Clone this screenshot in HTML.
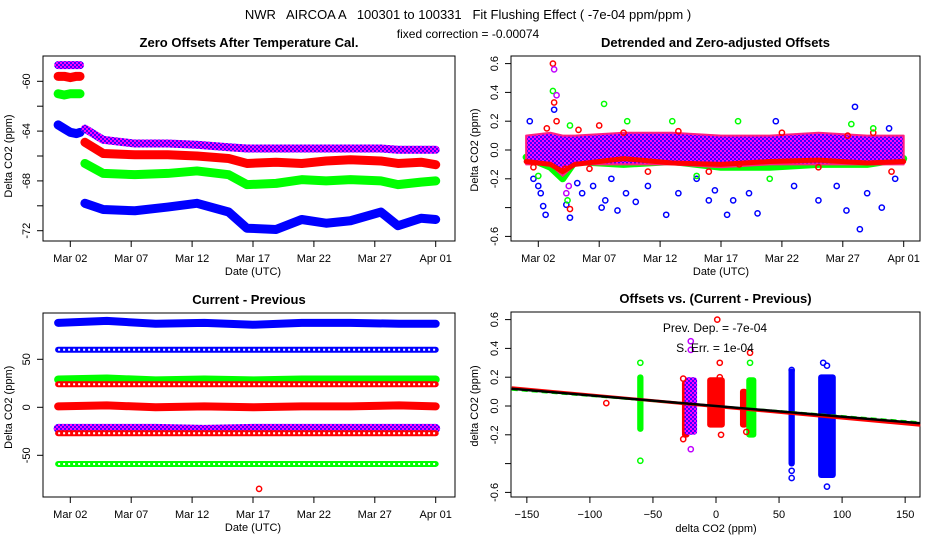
<!DOCTYPE html>
<html><head><meta charset="utf-8"><style>
body{margin:0;background:#fff}
svg{display:block;font-family:"Liberation Sans",sans-serif}
</style></head><body>
<svg id="c" width="936" height="540" viewBox="0 0 936 540">
<defs>
<pattern id="pp" width="4" height="4" patternUnits="userSpaceOnUse"><rect width="4" height="4" fill="#ff00ff"/><rect width="2" height="2" fill="#4000ff"/><rect x="2" y="2" width="2" height="2" fill="#4000ff"/></pattern>
</defs>
<text x="468" y="19" font-size="13" text-anchor="middle" style="white-space:pre">NWR   AIRCOA A   100301 to 100331   Fit Flushing Effect ( -7e-04 ppm/ppm )</text>
<text x="468" y="38" font-size="12" text-anchor="middle">fixed correction = -0.00074</text>
<g id="g"></g>
</svg>
<script>
// Panel 1: zero offsets (day since Mar 1, value)
const p1Days = [0,0.5,1,1.5,1.8];
const p1PrePurple = [-58.7,-58.7,-58.7,-58.7,-58.7];
const p1PreRed = [-59.6,-59.6,-59.7,-59.6,-59.6];
const p1PreGreen = [-61,-61.1,-61,-61,-61];
const p1PreBlue = [-63.5,-63.8,-64.1,-64.2,-64.1];
const p1PostDays = [2.2,3.7,6.3,9,11.4,14,15.5,17.9,20,22,24,26.5,27.9,29.8,31];
const p1Purple = [-63.8,-64.7,-65,-65,-65.1,-65.3,-65.4,-65.4,-65.4,-65.4,-65.4,-65.4,-65.5,-65.5,-65.5];
const p1Red = [-64.9,-65.8,-65.9,-65.9,-66,-66.2,-66.6,-66.5,-66.6,-66.4,-66.3,-66.4,-66.6,-66.5,-66.7];
const p1Green = [-66.6,-67.4,-67.5,-67.4,-67.2,-67.5,-68.3,-68.2,-67.9,-68,-67.9,-68,-68.3,-68.1,-68.0];
const p1Blue = [-69.8,-70.3,-70.4,-70.1,-69.8,-70.5,-71.8,-71.9,-71.1,-71.4,-71.2,-70.5,-71.6,-71.0,-71.1];
// Panel 2: detrended band and outliers
const p2BandDays = [0,2,3,4,8,12,16,20,24,28,31];
const p2BandHi = [0.1,0.12,0.1,0.1,0.12,0.12,0.1,0.1,0.12,0.1,0.1];
const p2BandLo = [-0.1,-0.1,-0.18,-0.1,-0.1,-0.1,-0.12,-0.1,-0.1,-0.1,-0.1];
const p2RedEdge = [-0.08,-0.1,-0.15,-0.1,-0.06,-0.09,-0.1,-0.08,-0.07,-0.09,-0.08];
const p2GreenEdge = [-0.05,-0.12,-0.2,-0.08,-0.1,-0.08,-0.12,-0.12,-0.1,-0.1,-0.06];
const p2BlueDays = [0.3,0.6,1,1.2,1.4,1.6,2.3,3.3,3.6,4.2,4.6,5.5,6.2,6.5,7,7.5,8.2,9,10,11.5,12.5,14,15,15.5,16.5,17,18.3,19,20.5,22,24,25.5,26.3,27,27.4,28,29.2,29.8,30.3];
const p2BlueVals = [0.2,-0.2,-0.25,-0.3,-0.39,-0.45,0.28,-0.38,-0.47,-0.23,-0.3,-0.25,-0.4,-0.35,-0.2,-0.42,-0.3,-0.36,-0.25,-0.45,-0.3,-0.2,-0.35,-0.28,-0.45,-0.35,-0.3,-0.44,0.2,-0.25,-0.35,-0.25,-0.42,0.3,-0.55,-0.3,-0.4,0.15,-0.2];
const p2RedDays = [0.6,1.7,2.2,2.3,2.5,3.2,3.6,4.3,5.2,6,8,10,12.5,15,17.5,21,24,26.4,28.5,30];
const p2RedVals = [-0.12,0.15,0.6,0.33,0.2,-0.13,-0.41,0.14,-0.13,0.17,0.12,-0.15,0.13,-0.15,-0.1,0.12,-0.12,0.1,0.12,-0.15];
const p2GreenDays = [1,2.2,3.4,3.6,6.4,8.3,12,14,17.4,20,26.7,28.5];
const p2GreenVals = [-0.18,0.41,-0.35,0.17,0.32,0.2,0.2,-0.18,0.2,-0.2,0.18,0.15];
const p2PurpleDays = [2.3,2.5,3.3,3.5];
const p2PurpleVals = [0.56,0.38,-0.3,-0.25];
// Panel 3: current - previous levels
const p3Days = [0,4,8,12,16,20,24,28,31];
const p3BlueF = [88,90,87,88,86,88,88,87,87];
const p3BlueO = [60,60,60,60,60,60,60,60,60];
const p3GreenF = [29,30,28,29,28,29,29,29,29];
const p3RedO = [24,24,24,24,24,24,24,24,24];
const p3RedF = [1,2,0,1,0,1,1,2,1];
const p3Purple = [-22,-22,-22,-23,-22,-22,-22,-22,-22];
const p3RedO2 = [-27,-27,-27,-27,-27,-27,-27,-27,-27];
const p3GreenO = [-59,-59,-59,-59,-59,-59,-59,-59,-59];
// Panel 4: columns of offsets vs dCO2
const p4ColX = [-60,-24,-20,0,22,28,60,88];
const p4ColLo = [-0.18,-0.22,-0.2,-0.15,-0.15,-0.22,-0.42,-0.5];
const p4ColHi = [0.22,0.18,0.2,0.2,0.12,0.2,0.26,0.22];
const p4ColW = [5,6,10,14,6,8,5,14];
const p4ColC = ['#00ff00','#ff0000','url(#pp)','#ff0000','#ff0000','#00ff00','#0000ff','#0000ff'];
const p4OutX = [-87,-60,-60,-26,-26,-20,-20,-20,1,3,3,4,27,24,27,60,60,60,85,88,90,86,88];
const p4OutY = [0.02,-0.38,0.3,0.19,-0.23,0.39,0.45,-0.3,0.6,0.3,0.2,-0.2,0.37,-0.18,0.3,-0.45,-0.5,0.25,0.3,0.28,-0.47,-0.25,-0.56];
const p4OutC = ['r','g','g','r','r','p','p','p','r','r','r','r','r','r','g','b','b','b','b','b','b','b','b'];
const slope = -7.4e-4;

const NS='http://www.w3.org/2000/svg';
const G=document.getElementById('g');
function el(t,a,p){const e=document.createElementNS(NS,t);for(const k in a)e.setAttribute(k,a[k]);(p||G).appendChild(e);return e;}
const X1=d=>70.3+(d-1)*12.18, X2=d=>538.3+(d-1)*12.18;
const Y1=v=>81.3-(v+60)*12.45, Y2=v=>150-v*144, Y3=v=>407.3-v*0.96;
const X4=u=>716+u*1.261, Y4=v=>406-v*144;
const colMap={r:'#ff0000',g:'#00ff00',b:'#0000ff',p:'#c000ff'};

function frame(x0,y0,x1,y1,title,name){
  const r=el('rect',{x:x0,y:y0,width:x1-x0,height:y1-y0,fill:'none',stroke:'#000','stroke-width':1});
  
  const t=el('text',{x:(x0+x1)/2,y:y0-9,'font-size':13,'font-weight':'bold','text-anchor':'middle'});t.textContent=title;
  
}
function xTicksDate(X,y1,name){
  const labels=['Mar 02','Mar 07','Mar 12','Mar 17','Mar 22','Mar 27','Apr 01'];
  labels.forEach((l,i)=>{const x=X(1+5*i);
    el('line',{x1:x,y1:y1,x2:x,y2:y1+6,stroke:'#000'});
    const t=el('text',{x:x,y:y1+21,'font-size':11,'text-anchor':'middle'});t.textContent=l;
    });
  const t=el('text',{x:(X(1)+X(31))/2,y:y1+34,'font-size':11,'text-anchor':'middle'});t.textContent='Date (UTC)';
  
}
function yTicks(vals,labels,Y,x0,title,tx,name){
  vals.forEach((v,i)=>{const y=Y(v);el('line',{x1:x0-6,y1:y,x2:x0,y2:y,stroke:'#000'});
    if(labels[i]!==''){const t=el('text',{x:x0-13,y:y,'font-size':11,'text-anchor':'middle',transform:`rotate(-90 ${x0-13} ${y})`});t.textContent=labels[i];
    }});
  const cy=(Y(vals[0])+Y(vals[vals.length-1]))/2;
  const t=el('text',{x:tx,y:cy,'font-size':11,'text-anchor':'middle',transform:`rotate(-90 ${tx} ${cy})`});t.textContent=title;
  
}
function band(days,vals,X,Y,color,w,name,open){
  const pts=days.map((d,i)=>X(d)+','+Y(vals[i])).join(' ');
  const p=el('polyline',{points:pts,fill:'none',stroke:color,'stroke-width':w,'stroke-linejoin':'round','stroke-linecap':'round'});
  
  if(open){el('polyline',{points:pts,fill:'none',stroke:'#fff','stroke-width':2,'stroke-dasharray':'2 3'});}
}
function pt(x,y,c,name){const e=el('circle',{cx:x,cy:y,r:2.6,fill:'none',stroke:c,'stroke-width':1.5});
  }

// ---- Panel 1
frame(43,56,455,241,'Zero Offsets After Temperature Cal.','zero-offsets');
yTicks([-60,-62,-64,-66,-68,-70,-72],['-60','','-64','','-68','','-72'],Y1,43,'Delta CO2 (ppm)',12,'zero-offsets');
xTicksDate(X1,241,'zero-offsets');
band(p1Days,p1PrePurple,X1,Y1,'url(#pp)',8,'purple-pre-series');
band(p1Days,p1PreRed,X1,Y1,'#ff0000',9,'red-pre-series');
band(p1Days,p1PreGreen,X1,Y1,'#00ff00',9,'green-pre-series');
band(p1Days,p1PreBlue,X1,Y1,'#0000ff',9,'blue-pre-series');
band(p1PostDays,p1Purple,X1,Y1,'url(#pp)',8,'purple-series');
band(p1PostDays,p1Red,X1,Y1,'#ff0000',9,'red-series');
band(p1PostDays,p1Green,X1,Y1,'#00ff00',9,'green-series');
band(p1PostDays,p1Blue,X1,Y1,'#0000ff',9,'blue-series');

// ---- Panel 2
frame(511,56,920,241,'Detrended and Zero-adjusted Offsets','detrended');
yTicks([0.6,0.4,0.2,0,-0.2,-0.4,-0.6],['0.6','0.4','0.2','0.0','-0.2','','-0.6'],Y2,511,'Delta CO2 (ppm)',478,'detrended');
xTicksDate(X2,241,'detrended');
band(p2BandDays,p2GreenEdge,X2,Y2,'#00ff00',7,'green-band');
{const up=p2BandDays.map((d,i)=>X2(d)+','+Y2(p2BandHi[i])), lo=p2BandDays.map((d,i)=>X2(d)+','+Y2(p2BandLo[i])).reverse();
 const p=el('polygon',{points:up.concat(lo).join(' '),fill:'url(#pp)',stroke:'#ff2080','stroke-width':2,'stroke-linejoin':'round'});
 }
band(p2BandDays,p2RedEdge,X2,Y2,'#ff0000',5,'red-band');
p2BlueDays.forEach((d,i)=>pt(X2(d),Y2(p2BlueVals[i]),'#0000ff','blue-outlier'));
p2RedDays.forEach((d,i)=>pt(X2(d),Y2(p2RedVals[i]),'#ff0000','red-outlier'));
p2GreenDays.forEach((d,i)=>pt(X2(d),Y2(p2GreenVals[i]),'#00ff00','green-outlier'));
p2PurpleDays.forEach((d,i)=>pt(X2(d),Y2(p2PurpleVals[i]),'#c000ff','purple-outlier'));

// ---- Panel 3
frame(43,313,455,497,'Current - Previous','current-previous');
yTicks([50,0,-50],['50','0','-50'],Y3,43,'Delta CO2 (ppm)',12,'current-previous');
xTicksDate(X1,497,'current-previous');
band(p3Days,p3BlueF,X1,Y3,'#0000ff',8,'blue-filled-series');
band(p3Days,p3BlueO,X1,Y3,'#0000ff',6,'blue-open-series',true);
band(p3Days,p3GreenF,X1,Y3,'#00ff00',8,'green-filled-series');
band(p3Days,p3RedO,X1,Y3,'#ff0000',6,'red-open-series',true);
band(p3Days,p3RedF,X1,Y3,'#ff0000',8,'red-filled-series');
band(p3Days,p3Purple,X1,Y3,'url(#pp)',9,'purple-series');
band(p3Days,p3RedO2,X1,Y3,'#ff0000',6,'red-open-series-2',true);
band(p3Days,p3GreenO,X1,Y3,'#00ff00',6,'green-open-series',true);
pt(X1(16.5),Y3(-85),'#ff0000','red-outlier');

// ---- Panel 4
frame(511,312,920,497,'Offsets vs. (Current - Previous)','offsets-vs');
yTicks([0.6,0.4,0.2,0,-0.2,-0.4,-0.6],['0.6','0.4','0.2','0.0','-0.2','','-0.6'],Y4,511,'delta CO2 (ppm)',478,'offsets-vs');
[-150,-100,-50,0,50,100,150].forEach(u=>{const x=X4(u);el('line',{x1:x,y1:497,x2:x,y2:503,stroke:'#000'});
  const t=el('text',{x:x,y:518,'font-size':11,'text-anchor':'middle'});t.textContent=String(u).replace('-','−');
  });
{const t=el('text',{x:716,y:532,'font-size':11,'text-anchor':'middle'});t.textContent='delta CO2 (ppm)';
 }
p4ColX.forEach((u,i)=>{const r=el('rect',{x:X4(u-p4ColW[i]/2),y:Y4(p4ColHi[i]),width:p4ColW[i]*1.261,height:Y4(p4ColLo[i])-Y4(p4ColHi[i]),fill:p4ColC[i],rx:3});
  });
p4OutX.forEach((u,i)=>pt(X4(u),Y4(p4OutY[i]),colMap[p4OutC[i]],'offset-outlier'));
const l1=el('line',{x1:X4(-162),y1:Y4(slope*-162)-1,x2:X4(162),y2:Y4(slope*162)+2,stroke:'#ff0000','stroke-width':3});

const l2=el('line',{x1:X4(-162),y1:Y4(slope*-162)+1,x2:X4(162),y2:Y4(slope*162)-1,stroke:'#00ff00','stroke-width':2,'stroke-dasharray':'6 4'});

const l3=el('line',{x1:X4(-162),y1:Y4(slope*-162),x2:X4(162),y2:Y4(slope*162),stroke:'#000','stroke-width':2.5});

{const t=el('text',{x:715,y:332,'font-size':12,'text-anchor':'middle'});t.textContent='Prev. Dep. =  -7e-04';
 
 const t2=el('text',{x:715,y:352,'font-size':12,'text-anchor':'middle'});t2.textContent='S. Err. =  1e-04';
 }
</script>
</body></html>
